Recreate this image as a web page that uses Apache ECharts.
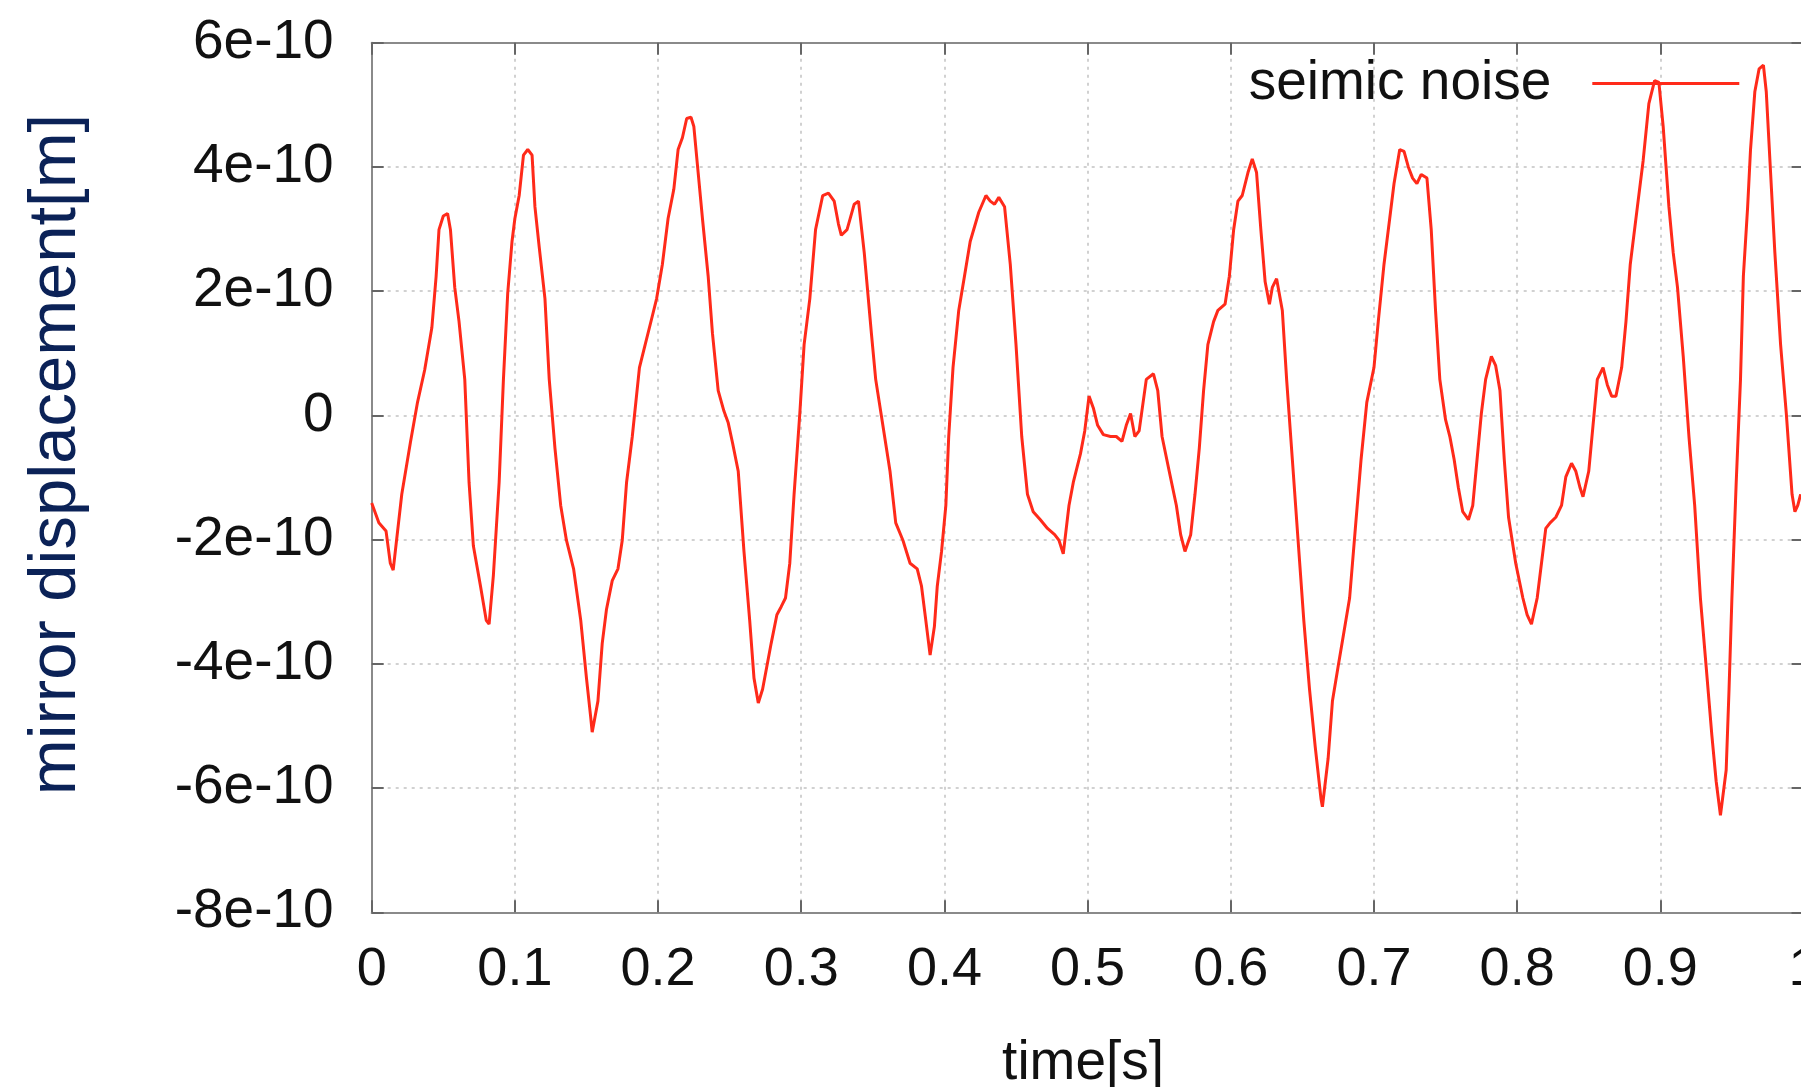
<!DOCTYPE html>
<html>
<head>
<meta charset="utf-8">
<script src="https://cdn.jsdelivr.net/npm/echarts@6/dist/echarts.min.js"></script>
<style>
html,body{margin:0;padding:0;background:#fff;}
#chart{width:1801px;height:1087px;}
</style>
</head>
<body>
<div id="chart"></div>
<script>
// time [s]
const times = [0.000,0.005,0.010,0.013,0.015,0.021,0.027,0.032,0.037,0.042,0.045,0.047,0.050,0.053,0.055,0.058,0.061,0.065,0.068,0.071,0.076,0.080,0.082,0.085,0.089,0.092,0.095,0.098,0.100,0.103,0.106,0.109,0.112,0.114,0.117,0.121,0.124,0.128,0.132,0.136,0.141,0.146,0.150,0.153,0.154,0.158,0.161,0.164,0.168,0.172,0.175,0.178,0.182,0.187,0.191,0.196,0.199,0.203,0.207,0.211,0.214,0.217,0.220,0.223,0.225,0.228,0.231,0.235,0.238,0.242,0.246,0.249,0.252,0.256,0.260,0.264,0.267,0.270,0.273,0.276,0.279,0.283,0.286,0.289,0.292,0.295,0.299,0.302,0.306,0.310,0.315,0.319,0.323,0.326,0.328,0.332,0.337,0.340,0.344,0.349,0.352,0.357,0.362,0.366,0.371,0.376,0.381,0.384,0.387,0.390,0.393,0.395,0.398,0.401,0.403,0.406,0.410,0.414,0.418,0.424,0.429,0.432,0.435,0.438,0.442,0.446,0.450,0.454,0.458,0.462,0.467,0.472,0.477,0.480,0.483,0.487,0.490,0.495,0.498,0.501,0.504,0.507,0.511,0.516,0.520,0.524,0.527,0.530,0.533,0.536,0.541,0.546,0.549,0.552,0.557,0.562,0.565,0.568,0.572,0.575,0.578,0.581,0.584,0.588,0.591,0.596,0.599,0.602,0.605,0.608,0.612,0.615,0.618,0.621,0.624,0.627,0.629,0.632,0.636,0.639,0.643,0.647,0.651,0.655,0.659,0.663,0.664,0.668,0.671,0.675,0.679,0.683,0.687,0.691,0.695,0.700,0.703,0.707,0.711,0.714,0.718,0.721,0.724,0.727,0.730,0.733,0.737,0.740,0.743,0.746,0.750,0.753,0.756,0.759,0.762,0.766,0.769,0.772,0.775,0.778,0.782,0.785,0.788,0.791,0.794,0.799,0.804,0.807,0.810,0.814,0.817,0.820,0.823,0.827,0.831,0.834,0.838,0.841,0.844,0.846,0.850,0.853,0.856,0.860,0.863,0.866,0.869,0.873,0.876,0.879,0.884,0.888,0.892,0.896,0.899,0.902,0.906,0.909,0.912,0.916,0.920,0.924,0.928,0.932,0.936,0.939,0.942,0.946,0.948,0.950,0.953,0.956,0.958,0.961,0.963,0.966,0.969,0.972,0.974,0.977,0.980,0.984,0.988,0.992,0.994,0.996,0.998];
// mirror displacement, in units of 1e-10 m
const displacement = [-1.41,-1.73,-1.86,-2.38,-2.49,-1.27,-0.44,0.21,0.73,1.41,2.24,2.99,3.21,3.25,2.99,2.06,1.51,0.58,-1.08,-2.10,-2.75,-3.30,-3.36,-2.57,-1.08,0.58,1.97,2.80,3.17,3.54,4.19,4.28,4.19,3.36,2.71,1.88,0.58,-0.53,-1.45,-2.01,-2.47,-3.30,-4.23,-4.87,-5.10,-4.60,-3.67,-3.12,-2.66,-2.47,-2.01,-1.08,-0.34,0.77,1.14,1.60,1.88,2.43,3.17,3.64,4.28,4.47,4.78,4.80,4.65,3.91,3.17,2.24,1.32,0.40,0.07,-0.12,-0.44,-0.90,-2.19,-3.30,-4.23,-4.63,-4.41,-4.04,-3.67,-3.21,-3.08,-2.94,-2.38,-1.27,0.03,1.14,1.88,2.99,3.54,3.58,3.45,3.08,2.90,2.99,3.40,3.45,2.62,1.32,0.58,-0.16,-0.90,-1.73,-2.01,-2.38,-2.47,-2.75,-3.30,-3.86,-3.40,-2.75,-2.19,-1.45,-0.34,0.77,1.69,2.24,2.80,3.27,3.54,3.45,3.40,3.51,3.36,2.43,1.14,-0.34,-1.27,-1.55,-1.68,-1.82,-1.92,-2.01,-2.23,-1.45,-1.08,-0.62,-0.25,0.31,0.12,-0.16,-0.31,-0.34,-0.34,-0.42,-0.16,0.03,-0.34,-0.25,0.58,0.67,0.40,-0.34,-0.90,-1.45,-1.92,-2.19,-1.92,-1.27,-0.53,0.40,1.14,1.51,1.69,1.79,2.24,2.99,3.45,3.54,3.91,4.13,3.91,2.99,2.15,1.79,2.06,2.20,1.69,0.58,-0.71,-2.01,-3.30,-4.41,-5.34,-6.17,-6.30,-5.52,-4.60,-4.04,-3.49,-2.94,-1.82,-0.71,0.21,0.77,1.51,2.43,3.17,3.73,4.28,4.25,4.00,3.82,3.73,3.88,3.82,2.99,1.69,0.58,-0.07,-0.34,-0.71,-1.17,-1.55,-1.68,-1.45,-0.71,0.03,0.58,0.95,0.80,0.40,-0.71,-1.64,-2.38,-2.94,-3.21,-3.36,-2.94,-2.38,-1.82,-1.73,-1.64,-1.45,-0.99,-0.77,-0.90,-1.17,-1.31,-0.90,-0.16,0.58,0.77,0.49,0.31,0.31,0.77,1.51,2.43,3.36,4.10,5.02,5.39,5.36,4.65,3.36,2.62,2.06,0.95,-0.34,-1.45,-2.94,-4.04,-5.15,-5.89,-6.44,-5.71,-4.41,-2.94,-1.08,0.58,2.24,3.36,4.28,5.21,5.58,5.64,5.21,3.91,2.62,1.14,0.03,-1.27,-1.55,-1.45,-1.27];

const seriesName = 'seimic noise';
const xAxisName = 'time[s]';
const yAxisName = 'mirror displacement[m]';
const xMin = 0, xMax = 1, xStep = 0.1;
const yMin = -8, yMax = 6, yStep = 2;   // in 1e-10 m

const FONT = "'Liberation Sans', Arial, Helvetica, sans-serif";
const RED = '#ff2a1a';
const chart = echarts.init(document.getElementById('chart'), null, {renderer: 'canvas'});

const frameLine = {show: true, onZero: false, lineStyle: {color: '#8a8a8a', width: 2}};
const inTick = {show: true, inside: true, length: 12, lineStyle: {color: '#666', width: 2}};
const dotted = {show: true, lineStyle: {color: '#c2c2c2', width: 1.5, type: [3, 5]}};

chart.setOption({
  animation: false,
  backgroundColor: '#ffffff',
  grid: {left: 371.7, top: 42.7, right: -2.5, bottom: 174.7, containLabel: false, outerBoundsMode: 'none'},
  legend: {
    data: [{name: seriesName, icon: 'rect'}],
    right: 61.7, top: 56, padding: 0,
    align: 'right',
    itemWidth: 147, itemHeight: 3,
    itemStyle: {color: RED},
    textStyle: {fontSize: 55, color: '#111', fontFamily: FONT, padding: [0, 36, 0, 0]}
  },
  xAxis: [{
    type: 'value', min: xMin, max: xMax, interval: xStep, position: 'bottom',
    axisLine: frameLine, axisTick: inTick,
    axisLabel: {fontSize: 54, color: '#111', fontFamily: FONT, margin: 31},
    splitLine: dotted,
    name: xAxisName, nameLocation: 'middle', nameGap: 124,
    nameTextStyle: {fontSize: 55, color: '#111', fontFamily: FONT, padding: [0, 9, 0, 0]}
  }, {
    type: 'value', min: xMin, max: xMax, interval: xStep, position: 'top',
    axisLine: frameLine, axisTick: inTick, axisLabel: {show: false}, splitLine: {show: false}
  }],
  yAxis: [{
    type: 'value', min: yMin, max: yMax, interval: yStep, position: 'left',
    axisLine: frameLine, axisTick: inTick,
    axisLabel: {fontSize: 55, color: '#111', fontFamily: FONT, margin: 38, padding: [0, 0, 3, 0],
      formatter: v => v === 0 ? '0' : v + 'e-10'},
    splitLine: dotted,
    name: yAxisName, nameLocation: 'middle', nameGap: 282, nameRotate: 90,
    nameTextStyle: {fontSize: 67, color: '#0b2257', fontFamily: FONT, padding: [0, 0, 0, 46]}
  }, {
    type: 'value', min: yMin, max: yMax, interval: yStep, position: 'right',
    axisLine: frameLine, axisTick: inTick, axisLabel: {show: false}, splitLine: {show: false}
  }],
  series: [{
    name: seriesName, type: 'line', xAxisIndex: 0, yAxisIndex: 0,
    symbol: 'none', showSymbol: false,
    lineStyle: {color: RED, width: 3},
    itemStyle: {color: RED},
    data: times.map((t, i) => [t, displacement[i]])
  }]
});
</script>
</body>
</html>
